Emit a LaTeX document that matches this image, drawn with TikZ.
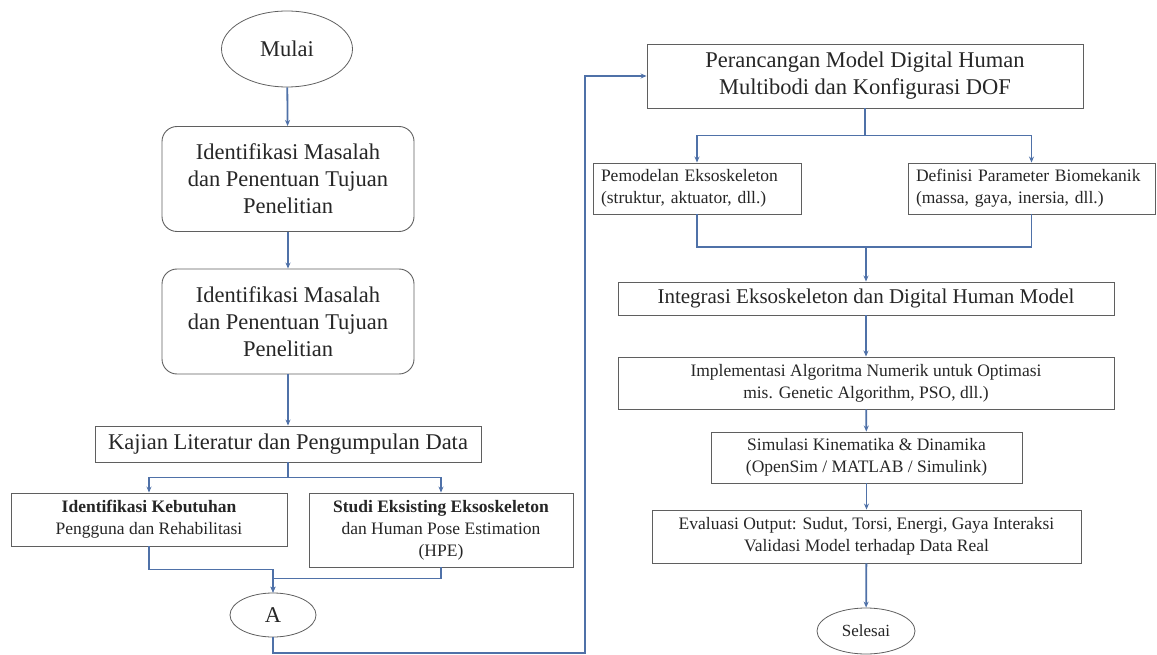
\documentclass[tikz,border=0pt]{standalone}
\usepackage{fontspec}
\setmainfont{Liberation Serif}
\usepackage{tikz}
\usetikzlibrary{shapes.geometric,arrows.meta,positioning}

\definecolor{flow}{RGB}{79,113,168}
\definecolor{boxline}{RGB}{95,95,95}

\begin{document}
\begin{tikzpicture}[x=1pt,y=-1pt,->,>={Stealth[length=6pt,width=5pt]},draw=flow,line width=1.8pt]
    \tikzstyle{box}=[rectangle,draw=boxline,line width=0.9pt,inner sep=2pt,align=center,text=black!85]
    \tikzstyle{round box}=[box,rounded corners=15pt]
    \tikzstyle{terminal}=[ellipse,draw=boxline,line width=0.8pt,inner sep=0pt,text=black!85]
    \tikzstyle{big}=[font=\fontsize{22.5}{27}\selectfont]
    \tikzstyle{small}=[font=\fontsize{17.5}{22}\selectfont]
    \tikzstyle{side box}=[box,small,align=left,inner xsep=8pt,minimum height=51pt]

    \useasboundingbox (0,0) rectangle (1157,655);

    % Left column
    \node[terminal,big,minimum width=131pt,minimum height=76pt] (M) at (287,49) {Mulai};
    \foreach \name / \y in {1/179,2/321.5}
        \node[round box,big,minimum width=252pt,minimum height=105pt] (P-\name) at (288,\y)
            {Identifikasi Masalah\\dan Penentuan Tujuan\\Penelitian};
    \node[box,big,minimum width=386pt,minimum height=36pt] (K) at (288,444) {Kajian Literatur dan Pengumpulan Data};
    \node[box,small,minimum width=276pt,minimum height=53pt] (IK) at (149,519.5)
        {\textbf{Identifikasi Kebutuhan}\\Pengguna dan Rehabilitasi};
    \node[box,small,minimum width=264pt,minimum height=74pt] (SE) at (441,530)
        {\textbf{Studi Eksisting Eksoskeleton}\\dan Human Pose Estimation\\(HPE)};
    \node[terminal,big,minimum width=86pt,minimum height=44pt] (A) at (273,615) {A};

    % Right column
    \node[box,big,minimum width=436pt,minimum height=64pt] (PM) at (865,76)
        {Perancangan Model Digital Human\\Multibodi dan Konfigurasi DOF};
    \node[side box,text width=192pt] (PE) at (697,188.5)
        {Pemodelan Eksoskeleton\\(struktur, aktuator, dll.)};
    \node[side box,text width=231pt] (DB) at (1031.5,188.5)
        {Definisi Parameter Biomekanik\\(massa, gaya, inersia, dll.)};
    \node[box,font=\fontsize{21}{24}\selectfont,minimum width=496pt,minimum height=33pt] (Int) at (866,298.5)
        {Integrasi Eksoskeleton dan Digital Human Model};
    \node[box,small,minimum width=496pt,minimum height=52pt] (Imp) at (866,383)
        {Implementasi Algoritma Numerik untuk Optimasi\\mis. Genetic Algorithm, PSO, dll.)};
    \node[box,small,minimum width=311pt,minimum height=51pt] (Sim) at (866.5,457.5)
        {Simulasi Kinematika \& Dinamika\\(OpenSim / MATLAB / Simulink)};
    \node[box,small,minimum width=429pt,minimum height=53pt] (Eva) at (866.5,536.5)
        {Evaluasi Output: Sudut, Torsi, Energi, Gaya Interaksi\\Validasi Model terhadap Data Real};
    \node[terminal,font=\fontsize{17}{20}\selectfont,minimum width=98pt,minimum height=46pt] (S) at (866,631) {Selesai};

    \coordinate (loop) at (585,653);
    \coordinate (join) at (866,247);

    % Connect the left column
    \path (M) edge (P-1) (P-1) edge (P-2) (P-2) edge (K);
    \draw (K.south) -- ++(0,15) -| (IK.north);
    \draw (K.south) -- ++(0,15) -| (SE.north);
    \draw (IK.south) -- ++(0,23) -| (A.north);
    \draw (SE.south) -- ++(0,11) -| (A.north);

    % Jump to the right column
    \draw[line width=2.4pt] (A.south) |- (loop) |- (PM.west);

    % Connect the right column
    \draw (PM.south) -- ++(0,27) -| (PE.north);
    \draw (PM.south) -- ++(0,27) -| (DB.north);
    \draw[-] (PE.south) |- (join) -| (DB.south);
    \draw (join) -- (Int.north);
    \foreach \source / \dest in {Int/Imp,Imp/Sim,Sim/Eva,Eva/S}
        \path (\source) edge (\dest);
\end{tikzpicture}
\end{document}
